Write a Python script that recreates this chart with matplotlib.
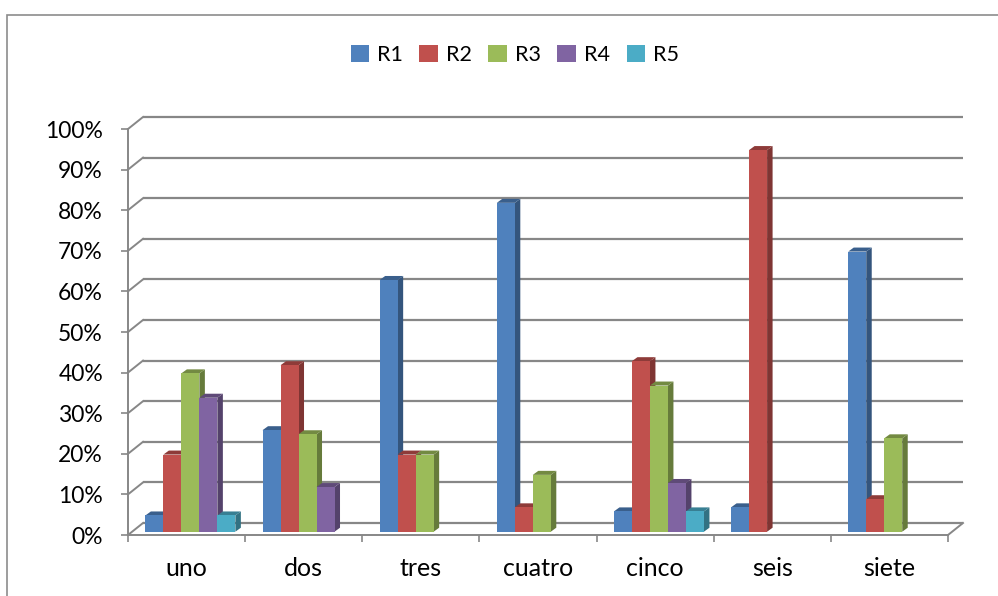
import numpy as np
import matplotlib
matplotlib.use('Agg')
import matplotlib.pyplot as plt
from matplotlib.patches import Rectangle, Polygon, Patch

# ── datos ────────────────────────────────────────────────────────────────────
categorias = ['uno', 'dos', 'tres', 'cuatro', 'cinco', 'seis', 'siete']
series = ['R1', 'R2', 'R3', 'R4', 'R5']
R1 = [4, 25, 62, 81, 5, 6, 69]
R2 = [19, 41, 19, 6, 42, 94, 8]
R3 = [39, 24, 19, 14, 36, 0, 23]
R4 = [33, 11, 0, 0, 12, 0, 0]
R5 = [4, 0, 0, 0, 5, 0, 0]
y_ticks = list(range(0, 101, 10))
y_labels = [f'{v}%' for v in y_ticks]

# ── estilo ───────────────────────────────────────────────────────────────────
COLORES = ['#4F81BD', '#C0504D', '#9BBB59', '#8064A2', '#4BACC6']
C_GRID = '#878787'
plt.rcParams['font.family'] = ['Lato', 'DejaVu Sans']

W, H = 998, 596
AX_L, AX_R, AX_T, AX_B = 128, 948, 129, 535      # plano frontal en pixeles
XU = (AX_R - AX_L) / len(categorias)             # px por categoria
YU = (AX_B - AX_T) / 100.0                        # px por 1%


def px(dx, dy):
    """desplazamiento en pixeles -> unidades de datos"""
    return dx / XU, dy / YU


def oscurecer(c, f):
    r, g, b = matplotlib.colors.to_rgb(c)
    return (r * f, g * f, b * f)


fig = plt.figure(figsize=(W / 100, H / 100), dpi=100)
ax = fig.add_axes([AX_L / W, 1 - AX_B / H, (AX_R - AX_L) / W, (AX_B - AX_T) / H])
ax.set_xlim(-0.5, len(categorias) - 0.5)
ax.set_ylim(0, 100)
for s in ax.spines.values():
    s.set_visible(False)

# — pared del fondo y rejilla —
bdx, bdy = px(15, 12)
x0, x1 = -0.5, len(categorias) - 0.5
for v in y_ticks:
    ax.plot([x0 + bdx, x1 + bdx], [v + bdy, v + bdy], color=C_GRID, lw=1.6,
            clip_on=False, zorder=1, solid_capstyle='butt')
    ax.plot([x0, x0 + bdx], [v, v + bdy], color=C_GRID, lw=1.4,
            clip_on=False, zorder=1)
ax.plot([x0, x0], [0, 100], color=C_GRID, lw=1.4, clip_on=False, zorder=1)
ax.plot([x0, x1], [0, 0], color=C_GRID, lw=1.4, clip_on=False, zorder=1)
ax.plot([x1, x1 + bdx], [0, bdy], color=C_GRID, lw=1.4, clip_on=False, zorder=1)

# — barras pseudo 3D —
fdx, fdy = px(3.8, 3.3)      # posicion frontal de la barra
sdx, sdy = px(5.5, 4)        # profundidad de la barra
bw = 18 / XU
valores = [R1, R2, R3, R4, R5]
x = np.arange(len(categorias))
for j in range(len(categorias)):
    for i, (vals, c) in enumerate(zip(valores, COLORES)):
        v = vals[j]
        if v <= 0:
            continue
        l = x[j] + fdx - 2.5 * bw + i * bw
        r = l + bw
        b = fdy
        t = v + fdy
        lado = Polygon([(r, b), (r + sdx, b + sdy), (r + sdx, t + sdy), (r, t)],
                       closed=True, facecolor=oscurecer(c, 0.66), edgecolor='none',
                       zorder=3, clip_on=False)
        tapa = Polygon([(l, t), (r, t), (r + sdx, t + sdy), (l + sdx, t + sdy)],
                       closed=True, facecolor=oscurecer(c, 0.74), edgecolor='none',
                       zorder=3, clip_on=False)
        ax.add_patch(lado)
        ax.add_patch(tapa)
        ax.add_patch(Rectangle((l, b), bw, v, facecolor=c, edgecolor='none',
                               zorder=3, clip_on=False))

# — ejes —
ax.set_yticks(y_ticks)
ax.set_yticklabels(y_labels, fontsize=16.5)
ax.tick_params(axis='y', length=5, width=1.2, color=C_GRID, pad=13)
ax.set_xticks(x)
ax.set_xticklabels(categorias, fontsize=18)
ax.tick_params(axis='x', which='major', length=0, pad=16)
ax.set_xticks(np.arange(-0.5, len(categorias), 1), minor=True)
ax.tick_params(axis='x', which='minor', length=5, width=1.2, color=C_GRID)

# — leyenda —
handles = [Patch(facecolor=c, label=n) for c, n in zip(COLORES, series)]
fig.legend(handles=handles, loc='center', bbox_to_anchor=(515 / W, 1 - 55 / H),
           ncol=5, frameon=False, fontsize=15.5, handlelength=0.85,
           handleheight=0.85, handletextpad=0.4, columnspacing=0.75)

# — marco exterior —
fig.add_artist(Rectangle((7 / W, -0.05), 1.1, (H - 15) / H + 0.05,
                         transform=fig.transFigure, fill=False,
                         edgecolor='#8c8c8c', lw=1.2))

fig.savefig('out.png', dpi=100, facecolor='white')
